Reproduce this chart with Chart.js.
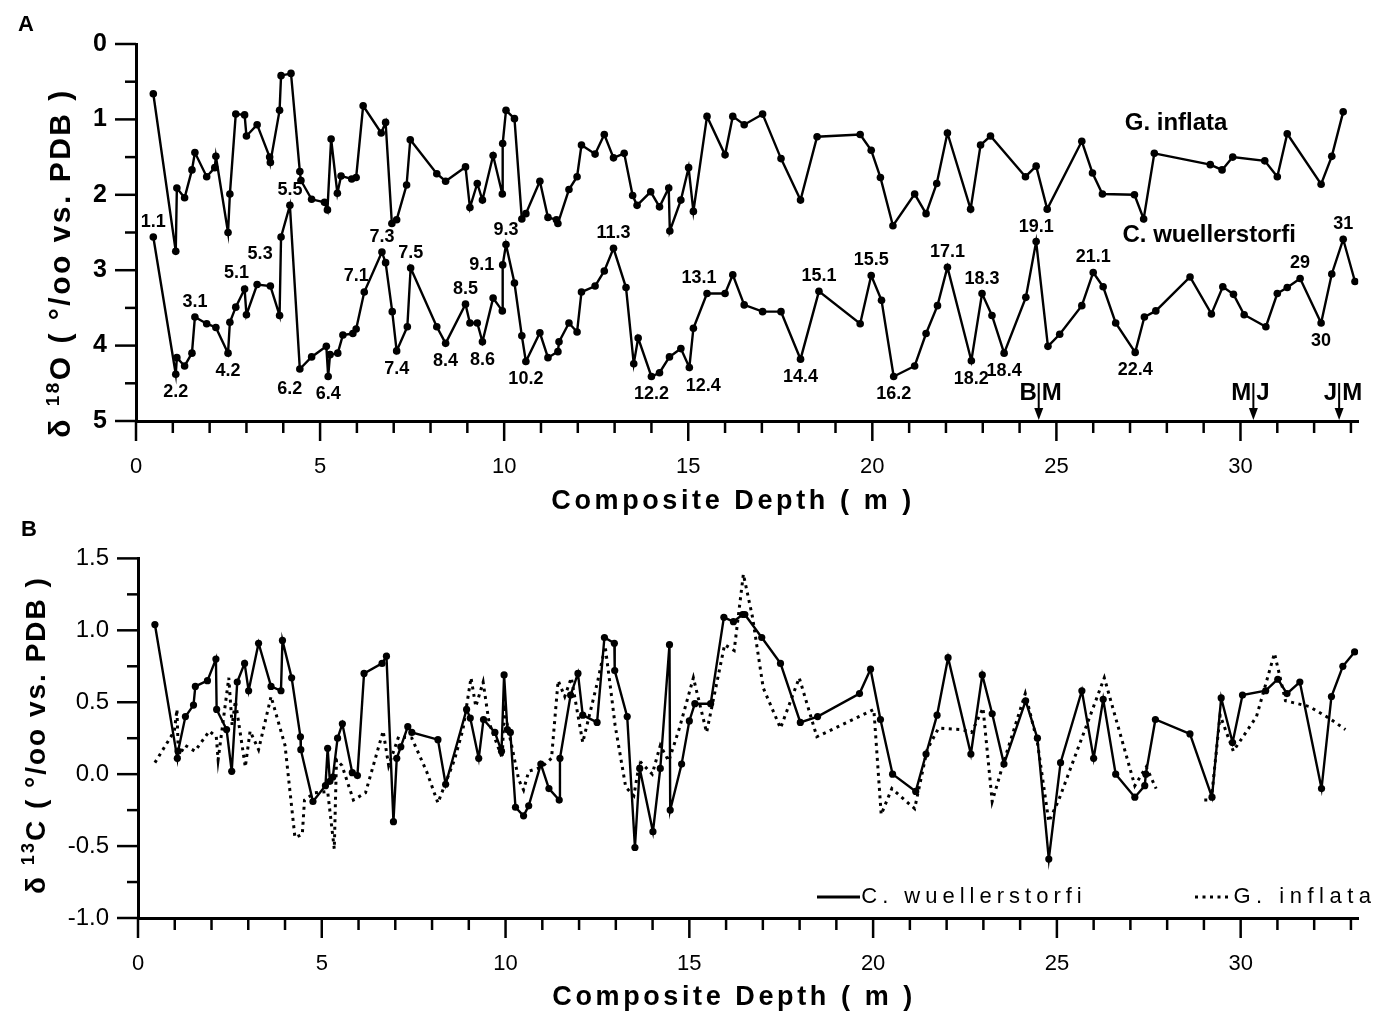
<!DOCTYPE html>
<html>
<head>
<meta charset="utf-8">
<title>Composite depth isotope record</title>
<script src="https://cdn.jsdelivr.net/npm/chart.js@4.4.1/dist/chart.umd.min.js"></script>
<style>
  html, body { margin: 0; padding: 0; background: #fff; }
  #wrap { position: relative; width: 1384px; height: 1013px; }
  .box { position: absolute; left: 0; width: 1384px; }
  #boxA { top: 0; height: 515px; }
  #boxB { top: 515px; height: 498px; }
</style>
</head>
<body>
<div id="wrap">
  <div class="box" id="boxA"><canvas id="chartA" width="1384" height="515"></canvas></div>
  <div class="box" id="boxB"><canvas id="chartB" width="1384" height="498"></canvas></div>
</div>
<script>
// ===== Data =====
const DEPTH_MAX = 33.2;

// Panel A: d18O, G. inflata
const inflataDepthA = [0.47,1.08,1.11,1.32,1.52,1.60,1.92,2.14,2.17,2.50,2.55,2.71,2.95,3.00,3.29,3.63,3.65,3.90,3.94,4.21,4.45,4.48,4.77,5.12,5.20,5.30,5.47,5.57,5.86,5.98,6.17,6.66,6.78,6.95,7.08,7.35,7.45,8.17,8.41,8.95,9.07,9.27,9.41,9.70,9.95,9.96,10.05,10.28,10.48,10.59,10.97,11.19,11.42,11.46,11.76,11.98,12.10,12.47,12.72,12.97,13.26,13.49,13.61,13.98,14.22,14.47,14.50,14.80,15.01,15.14,15.51,16.00,16.21,16.52,17.02,17.52,18.05,18.50,19.67,19.97,20.22,20.56,21.15,21.46,21.75,22.04,22.67,22.94,23.21,24.16,24.45,24.75,25.69,25.98,26.25,27.12,27.37,27.66,29.18,29.50,29.79,30.66,31.00,31.27,32.19,32.48,32.79];
const inflataO18 = [0.66,2.75,1.91,2.04,1.67,1.44,1.76,1.64,1.49,2.50,1.99,0.93,0.94,1.22,1.07,1.50,1.57,0.88,0.42,0.39,1.69,1.81,2.06,2.10,2.20,1.26,1.98,1.75,1.79,1.77,0.82,1.18,1.04,2.38,2.33,1.87,1.27,1.72,1.82,1.63,2.17,1.85,2.07,1.48,1.99,1.32,0.88,0.99,2.32,2.25,1.82,2.30,2.33,2.38,1.93,1.76,1.34,1.46,1.20,1.51,1.45,2.01,2.14,1.96,2.16,1.91,2.48,2.07,1.64,2.22,0.96,1.47,0.96,1.07,0.93,1.52,2.07,1.23,1.20,1.41,1.77,2.41,1.99,2.25,1.85,1.18,2.19,1.34,1.22,1.76,1.62,2.19,1.29,1.71,1.99,2.00,2.32,1.45,1.60,1.67,1.50,1.55,1.76,1.19,1.86,1.49,0.90];

// Panel A: d18O, C. wuellerstorfi
const wuellDepthA = [0.47,1.08,1.11,1.32,1.52,1.60,1.92,2.17,2.50,2.55,2.71,2.95,3.00,3.29,3.65,3.90,3.94,4.18,4.45,4.77,5.17,5.22,5.27,5.48,5.62,5.89,5.98,6.20,6.68,6.78,6.96,7.08,7.37,7.46,8.17,8.41,8.95,9.07,9.27,9.41,9.70,9.95,9.96,10.05,10.28,10.48,10.59,10.97,11.19,11.46,11.49,11.76,11.98,12.10,12.47,12.72,12.97,13.31,13.52,13.64,14.00,14.22,14.49,14.80,15.03,15.14,15.51,16.00,16.21,16.52,17.02,17.52,18.05,18.55,19.67,19.97,20.25,20.58,21.15,21.46,21.77,22.04,22.69,22.98,23.25,23.58,24.17,24.45,24.77,25.09,25.69,26.00,26.27,26.61,27.14,27.39,27.70,28.63,29.21,29.52,29.81,30.10,30.69,31.00,31.27,31.62,32.19,32.48,32.79,33.11];
const wuellO18 = [2.56,4.38,4.16,4.27,4.10,3.62,3.71,3.76,4.10,3.69,3.49,3.25,3.59,3.19,3.21,3.60,2.56,2.14,4.31,4.15,4.01,4.41,4.12,4.10,3.86,3.84,3.78,3.29,2.76,2.90,3.55,4.07,3.75,2.97,3.75,3.97,3.45,3.70,3.70,3.95,3.37,3.54,2.93,2.66,3.17,3.87,4.21,3.83,4.16,4.08,3.95,3.70,3.82,3.29,3.21,3.01,2.71,3.23,4.24,3.90,4.41,4.36,4.15,4.04,4.29,3.77,3.31,3.31,3.06,3.46,3.55,3.55,4.18,3.28,3.71,3.07,3.40,4.41,4.27,3.84,3.47,2.96,4.20,3.31,3.60,4.10,3.36,2.62,4.01,3.85,3.47,3.03,3.22,3.70,4.09,3.62,3.54,3.09,3.58,3.22,3.32,3.59,3.75,3.31,3.23,3.11,3.70,3.05,2.59,3.15];

// Isotope stage labels on the C. wuellerstorfi curve
const stageNames  = ['1.1','2.2','3.1','4.2','5.1','5.3','5.5','6.2','6.4','7.1','7.3','7.4','7.5','8.4','8.5','8.6','9.1','9.3','10.2','11.3','12.2','12.4','13.1','14.4','15.1','15.5','16.2','17.1','18.2','18.3','18.4','19.1','21.1','22.4','29','30','31'];
const stageDepths = [0.47,1.08,1.60,2.50,2.95,3.29,4.18,4.45,5.22,6.20,6.68,7.08,7.46,8.41,8.95,9.41,9.96,10.05,10.59,12.97,14.00,15.03,15.51,18.05,18.55,19.97,20.58,22.04,22.69,22.98,23.58,24.45,26.00,27.14,31.62,32.19,32.79];
const stagePlace  = ['a','b','a','b','al','A','a','bl','b','al','a','b','a','b','a','b','l','a','b','a','b','br','al','b','a','a','b','a','b','a','b','a','a','b','a','b','a'];

// Magnetic reversal markers
const reversalNames  = [['B','M'],['M','J'],['J','M']];
const reversalDepths = [24.52, 30.35, 32.68];

// Panel B: d13C, C. wuellerstorfi
const wuellDepthB = [0.46,1.07,1.09,1.29,1.51,1.56,1.89,2.12,2.14,2.41,2.55,2.70,2.90,3.01,3.28,3.62,3.89,3.93,4.18,4.42,4.43,4.76,5.10,5.16,5.22,5.30,5.43,5.56,5.83,5.97,6.15,6.64,6.76,6.95,7.04,7.15,7.34,7.45,8.16,8.37,8.94,9.04,9.27,9.40,9.71,9.89,9.96,10.05,10.13,10.27,10.49,10.63,10.96,11.18,11.46,11.48,11.77,11.97,12.10,12.49,12.69,12.96,12.97,13.31,13.52,13.65,14.01,14.21,14.46,14.48,14.79,15.00,15.15,15.58,15.94,16.20,16.45,16.51,16.97,17.48,18.02,18.49,19.63,19.93,20.20,20.53,21.16,21.44,21.74,22.04,22.66,22.97,23.24,23.56,24.15,24.47,24.78,25.10,25.68,26.00,26.26,26.60,27.12,27.39,27.42,27.68,28.62,29.22,29.47,29.78,30.05,30.68,31.01,31.26,31.61,32.20,32.47,32.78,33.10];
const wuellC13 = [1.04,0.11,0.16,0.40,0.48,0.61,0.65,0.80,0.45,0.31,0.02,0.64,0.77,0.58,0.91,0.61,0.58,0.93,0.67,0.26,0.17,-0.19,-0.08,0.18,-0.05,-0.02,0.25,0.35,0.01,-0.01,0.70,0.77,0.82,-0.33,0.11,0.19,0.33,0.29,0.24,-0.07,0.45,0.39,0.11,0.38,0.29,0.16,0.69,0.31,0.29,-0.23,-0.29,-0.22,0.07,-0.10,-0.18,0.11,0.55,0.70,0.41,0.36,0.95,0.91,0.72,0.40,-0.51,0.04,-0.40,0.04,0.90,-0.25,0.07,0.37,0.49,0.49,1.09,1.06,1.11,1.11,0.95,0.77,0.36,0.40,0.56,0.73,0.38,0.00,-0.12,0.14,0.41,0.81,0.14,0.69,0.42,0.07,0.51,0.25,-0.59,0.08,0.58,0.11,0.52,0.00,-0.16,-0.08,0.00,0.38,0.28,-0.16,0.53,0.22,0.55,0.58,0.66,0.56,0.64,-0.10,0.54,0.75,0.85];

// Panel B: d13C, G. inflata (null = no samples)
const inflataDepthB = [0.46,0.99,1.06,1.10,1.28,1.55,1.94,2.13,2.18,2.47,2.56,2.65,2.92,3.05,3.28,3.62,4.00,4.27,4.47,4.53,4.80,5.16,5.34,5.40,5.55,5.86,6.19,6.67,6.82,7.09,7.45,7.85,8.16,8.61,8.84,9.06,9.19,9.39,9.55,9.91,9.96,10.36,10.49,10.63,10.99,11.25,11.43,11.61,11.79,12.10,12.51,12.71,12.87,12.98,13.27,13.49,13.65,13.99,14.21,14.44,14.73,15.11,15.47,15.96,16.22,16.47,16.72,17.01,17.48,17.99,18.47,20.02,20.22,20.51,21.13,21.47,21.78,22.41,22.68,22.99,23.24,23.56,24.14,24.47,24.78,25.05,26.29,27.12,27.43,27.70,28.30,29.01,29.20,29.44,29.80,30.43,30.92,31.22,31.87,32.40,32.85];
const inflataC13 = [0.08,0.30,0.45,0.12,0.20,0.16,0.30,0.26,0.10,0.67,0.34,0.51,0.05,0.30,0.17,0.54,0.20,-0.44,-0.42,-0.18,-0.13,-0.12,-0.52,0.10,0.06,-0.18,-0.13,0.30,0.06,0.26,0.25,0.02,-0.20,0.10,0.31,0.67,0.47,0.64,0.36,0.11,0.45,-0.04,-0.11,0.02,0.05,0.11,0.65,0.54,0.67,0.22,0.65,0.89,0.57,0.34,-0.09,-0.15,0.09,0.00,0.20,0.09,0.32,0.67,0.29,0.90,0.86,1.39,1.09,0.60,0.32,0.67,0.26,0.45,-0.28,-0.10,-0.24,0.17,0.32,0.31,0.29,0.46,-0.19,0.09,0.56,0.22,-0.33,-0.18,0.67,-0.08,0.05,-0.10,null,-0.18,-0.18,0.41,0.16,0.40,0.84,0.51,0.47,0.39,0.31];

// ===== Helpers =====
const FONT = "'Liberation Sans', Arial, Helvetica, sans-serif";
const toXY = (xs, ys) => xs.map((x, i) => ({ x, y: ys[i] }));
const isMult = (v, m) => Math.abs(v / m - Math.round(v / m)) < 1e-6;

function drawTicks(chart, xMajor, yMajor) {
  const { ctx, scales: { x, y }, chartArea: a } = chart;
  ctx.save();
  ctx.strokeStyle = "#000";
  ctx.lineWidth = 2.5;
  x.ticks.forEach(t => {
    const px = x.getPixelForValue(t.value);
    ctx.beginPath();
    ctx.moveTo(px, a.bottom);
    ctx.lineTo(px, a.bottom + (isMult(t.value, xMajor) ? 20 : 12));
    ctx.stroke();
  });
  y.ticks.forEach(t => {
    const py = y.getPixelForValue(t.value);
    ctx.beginPath();
    ctx.moveTo(a.left, py);
    ctx.lineTo(a.left - (isMult(t.value, yMajor) ? 21 : 11), py);
    ctx.stroke();
  });
  ctx.restore();
}

// draw mixed-size text runs centred on (cx, cy), optionally rotated
function drawRuns(ctx, runs, cx, cy, rot, spacing) {
  ctx.save();
  ctx.translate(cx, cy);
  ctx.rotate(rot);
  ctx.letterSpacing = spacing + "px";
  ctx.fillStyle = "#000";
  ctx.textBaseline = "middle";
  ctx.textAlign = "left";
  let total = 0;
  runs.forEach(r => { ctx.font = r.font; r.w = ctx.measureText(r.t).width; total += r.w; });
  let x = -total / 2;
  runs.forEach(r => { ctx.font = r.font; ctx.fillText(r.t, x, r.dy || 0); x += r.w; });
  ctx.restore();
}

function xTitle(chart, cy) {
  const a = chart.chartArea;
  drawRuns(chart.ctx, [{ t: "Composite Depth ( m )", font: `bold 27px ${FONT}` }],
    (a.left + a.right) / 2 - 14, cy, 0, 3.6);
}

function commonScales(yOpts) {
  return {
    x: {
      type: "linear", min: 0, max: DEPTH_MAX,
      border: { display: true, width: 3, color: "#000" },
      grid: { display: false, drawTicks: false },
      ticks: {
        stepSize: 1, includeBounds: false, autoSkip: false, maxRotation: 0,
        padding: 33, color: "#000", font: { family: FONT, size: 22 },
        callback: v => isMult(v, 5) ? String(v) : ""
      },
      afterFit: s => { s.height = yOpts.xHeight; }
    },
    y: Object.assign({
      type: "linear",
      border: { display: true, width: 3, color: "#000" },
      grid: { display: false, drawTicks: false },
      afterFit: s => { s.width = yOpts.yWidth; }
    }, yOpts.y)
  };
}

// ===== Panel A =====
const PLACE = { a: [0, -15], b: [0, 18], al: [-8, -16], bl: [-10, 20], br: [14, 19], l: [-21, 0], A: [3, -30] };

const panelA = {
  id: "panelA",
  afterDraw(chart) {
    const { ctx, scales: { x, y }, chartArea: a } = chart;
    drawTicks(chart, 5, 1);

    // stage labels
    const meta = chart.getDatasetMeta(1);
    ctx.save();
    ctx.fillStyle = "#000";
    ctx.font = `bold 18px ${FONT}`;
    ctx.textAlign = "center";
    ctx.textBaseline = "middle";
    stageDepths.forEach((d, i) => {
      let best = 0;
      wuellDepthA.forEach((w, j) => { if (Math.abs(w - d) < Math.abs(wuellDepthA[best] - d)) best = j; });
      const p = meta.data[best];
      const off = PLACE[stagePlace[i]];
      ctx.fillText(stageNames[i], p.x + off[0], p.y + off[1]);
    });

    // species names
    ctx.font = `bold 24px ${FONT}`;
    ctx.fillText("G. inflata", x.getPixelForValue(28.25), y.getPixelForValue(1.05));
    ctx.fillText("C. wuellerstorfi", x.getPixelForValue(29.15), y.getPixelForValue(2.54));

    // reversal arrows
    ctx.font = `bold 24px ${FONT}`;
    ctx.lineWidth = 2;
    ctx.strokeStyle = "#000";
    reversalDepths.forEach((d, i) => {
      const px = x.getPixelForValue(d);
      const top = a.bottom - 38;
      ctx.beginPath(); ctx.moveTo(px, top); ctx.lineTo(px, a.bottom - 8); ctx.stroke();
      ctx.beginPath();
      ctx.moveTo(px, a.bottom - 1); ctx.lineTo(px - 4.5, a.bottom - 13); ctx.lineTo(px + 4.5, a.bottom - 13);
      ctx.closePath(); ctx.fill();
      ctx.textAlign = "right"; ctx.fillText(reversalNames[i][0], px - 2, a.bottom - 28);
      ctx.textAlign = "left";  ctx.fillText(reversalNames[i][1], px + 3, a.bottom - 28);
    });

    // panel letter
    ctx.textAlign = "center";
    ctx.font = `bold 22px ${FONT}`;
    ctx.fillText("A", 26, 25);
    ctx.restore();

    // axis titles
    const big = `bold 30px ${FONT}`;
    drawRuns(ctx, [
      { t: "δ ", font: big },
      { t: "18", font: `bold 19px ${FONT}`, dy: -8 },
      { t: "O ( °/oo vs. PDB )", font: big }
    ], 62, 263, -Math.PI / 2, 2.5);
    xTitle(chart, 502);
  }
};

new Chart(document.getElementById("chartA"), {
  type: "line",
  data: {
    datasets: [
      { label: "G. inflata", data: toXY(inflataDepthA, inflataO18) },
      { label: "C. wuellerstorfi", data: toXY(wuellDepthA, wuellO18) }
    ].map(ds => Object.assign(ds, {
      borderColor: "#000", borderWidth: 2.4, tension: 0,
      pointRadius: 3.8, pointBackgroundColor: "#000", pointBorderWidth: 0
    }))
  },
  options: {
    responsive: false, animation: false,
    layout: { padding: { top: 44, right: 12, left: 0, bottom: 0 } },
    plugins: { legend: { display: false }, tooltip: { enabled: false } },
    scales: commonScales({
      xHeight: 94, yWidth: 136,
      y: {
        min: 0, max: 5, reverse: true,
        ticks: {
          stepSize: 0.5, autoSkip: false, padding: 29, color: "#000",
          font: { family: FONT, size: 25, weight: "bold" },
          callback: v => isMult(v, 1) ? String(v) : ""
        }
      }
    })
  },
  plugins: [panelA]
});

// ===== Panel B =====
const panelB = {
  id: "panelB",
  afterDraw(chart) {
    const { ctx, chartArea: a } = chart;
    drawTicks(chart, 5, 0.5);

    // legend
    const ly = a.bottom - 21;
    ctx.save();
    ctx.strokeStyle = "#000";
    ctx.lineWidth = 3;
    ctx.beginPath(); ctx.moveTo(a.left + 679, ly); ctx.lineTo(a.left + 722, ly); ctx.stroke();
    ctx.setLineDash([3, 4.5]);
    ctx.beginPath(); ctx.moveTo(a.left + 1057, ly); ctx.lineTo(a.left + 1091, ly); ctx.stroke();
    ctx.restore();
    drawRuns(ctx, [{ t: "C. wuellerstorfi", font: `22px ${FONT}` }], a.left + 726 + 110, ly, 0, 5);
    drawRuns(ctx, [{ t: "G. inflata", font: `22px ${FONT}` }], a.left + 1094 + 73, ly, 0, 5.5);

    // panel letter
    ctx.save();
    ctx.fillStyle = "#000";
    ctx.font = `bold 22px ${FONT}`;
    ctx.textAlign = "center";
    ctx.textBaseline = "middle";
    ctx.fillText("B", 29, 15);
    ctx.restore();

    const big = `bold 28px ${FONT}`;
    drawRuns(ctx, [
      { t: "δ ", font: big },
      { t: "13", font: `bold 18px ${FONT}`, dy: -8 },
      { t: "C ( °/oo vs. PDB )", font: big }
    ], 37, 220, -Math.PI / 2, 2);
    xTitle(chart, 483);
  }
};

new Chart(document.getElementById("chartB"), {
  type: "line",
  data: {
    datasets: [
      {
        label: "C. wuellerstorfi", data: toXY(wuellDepthB, wuellC13),
        borderColor: "#000", borderWidth: 2.4, tension: 0,
        pointRadius: 3.6, pointBackgroundColor: "#000", pointBorderWidth: 0
      },
      {
        label: "G. inflata", data: toXY(inflataDepthB, inflataC13),
        borderColor: "#000", borderWidth: 3, borderDash: [3, 4.5], tension: 0,
        pointRadius: 0, spanGaps: false
      }
    ]
  },
  options: {
    responsive: false, animation: false,
    layout: { padding: { top: 27, right: 11, left: 0, bottom: 0 } },
    plugins: { legend: { display: false }, tooltip: { enabled: false } },
    scales: commonScales({
      xHeight: 95, yWidth: 138,
      y: {
        min: -1, max: 1.5,
        ticks: {
          stepSize: 0.25, autoSkip: false, padding: 29, color: "#000",
          font: { family: FONT, size: 24 },
          callback: v => isMult(v, 0.5) ? v.toFixed(1) : ""
        }
      }
    })
  },
  plugins: [panelB]
});
</script>
</body>
</html>
